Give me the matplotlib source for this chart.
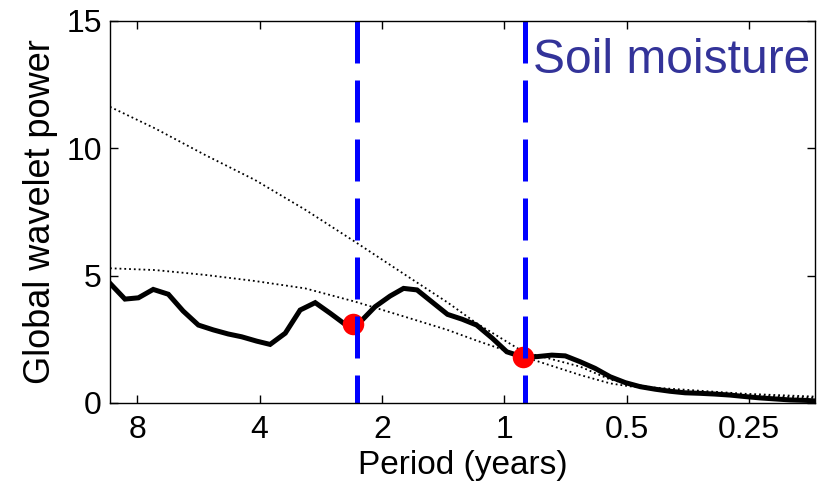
import matplotlib
matplotlib.use('Agg')
import matplotlib.pyplot as plt
from matplotlib.ticker import FixedLocator, FixedFormatter, NullLocator

plt.rcParams['font.family'] = ['Liberation Sans', 'DejaVu Sans']

# global wavelet spectrum (period in years, power)
period = [9.34, 8.58, 7.95, 7.31, 6.71, 6.17, 5.66, 5.20, 4.78, 4.43, 4.07,
          3.77, 3.46, 3.18, 2.92, 2.68, 2.47, 2.36, 2.26, 2.08, 1.91, 1.77,
          1.64, 1.51, 1.38, 1.27, 1.17, 1.07, 0.986, 0.898, 0.832, 0.764,
          0.708, 0.651, 0.598, 0.549, 0.504, 0.463, 0.425, 0.391, 0.359,
          0.330, 0.303, 0.278, 0.255, 0.235, 0.216, 0.198, 0.180, 0.172]
power = [4.70, 4.08, 4.13, 4.46, 4.27, 3.61, 3.06, 2.87, 2.71, 2.60, 2.43,
         2.30, 2.74, 3.65, 3.94, 3.52, 3.10, 3.09, 3.19, 3.78, 4.20, 4.50,
         4.44, 3.98, 3.48, 3.29, 3.06, 2.54, 2.01, 1.80, 1.82, 1.88,
         1.85, 1.62, 1.36, 1.03, 0.80, 0.64, 0.54, 0.46, 0.40,
         0.38, 0.35, 0.31, 0.25, 0.20, 0.16, 0.12, 0.10, 0.08]

# significance levels (red-noise background)
sig_period = [9.34, 7.23, 5.45, 4.11, 3.09, 2.33, 1.76, 1.38, 1.17, 0.898,
              0.651, 0.549, 0.504, 0.425, 0.330, 0.255, 0.172]
sig_upper = [11.63, 10.78, 9.74, 8.76, 7.59, 6.33, 5.05, 3.95, 3.13, 2.01,
             1.43, 0.92, 0.78, 0.60, 0.48, 0.36, 0.25]
sig_lower = [5.29, 5.22, 5.03, 4.79, 4.50, 3.98, 3.39, 2.87, 2.45, 1.82,
             1.10, 0.77, 0.68, 0.52, 0.40, 0.30, 0.20]

# marked peaks
peak_period = [2.36, 0.898]
peak_power = [3.09, 1.80]
vline_period = [2.30, 0.891]

xticks = [8, 4, 2, 1, 0.5, 0.25]
xtick_labels = ['8', '4', '2', '1', '0.5', '0.25']

fig = plt.figure(figsize=(8.25, 4.87), dpi=100)
ax = fig.add_axes([0.1333, 0.1725, 0.8546, 0.7844])

ax.plot(sig_period, sig_upper, color='black', lw=1.3, ls=':')
ax.plot(sig_period, sig_lower, color='black', lw=1.3, ls=':')
ax.plot(period, power, color='black', lw=3.6, solid_joinstyle='miter')
ax.plot(peak_period, peak_power, 'o', color='red', ms=15.5, mec='none')
for p in vline_period:
    ax.plot([p, p], [15, 0], color='blue', lw=3.6, dashes=(8.4, 3.4))

ax.text(0.85, 13.45, 'Soil moisture', color='#333399', fontsize=34.5,
        ha='left', va='center')

ax.set_xscale('log', base=2)
ax.set_xlim(9.34, 0.172)
ax.set_ylim(0, 15)
ax.xaxis.set_major_locator(FixedLocator(xticks))
ax.xaxis.set_major_formatter(FixedFormatter(xtick_labels))
ax.xaxis.set_minor_locator(NullLocator())
ax.set_yticks([0, 5, 10, 15])

ax.tick_params(direction='in', length=5.5, width=1, top=True, right=True,
               labelsize=23, pad=6)
ax.tick_params(axis='x', pad=9)
for s in ax.spines.values():
    s.set_linewidth(1)

ax.set_xlabel('Period (years)', fontsize=24, labelpad=3)
ax.set_ylabel('Global wavelet power', fontsize=26, labelpad=6)

plt.savefig('out.png', dpi=100)
